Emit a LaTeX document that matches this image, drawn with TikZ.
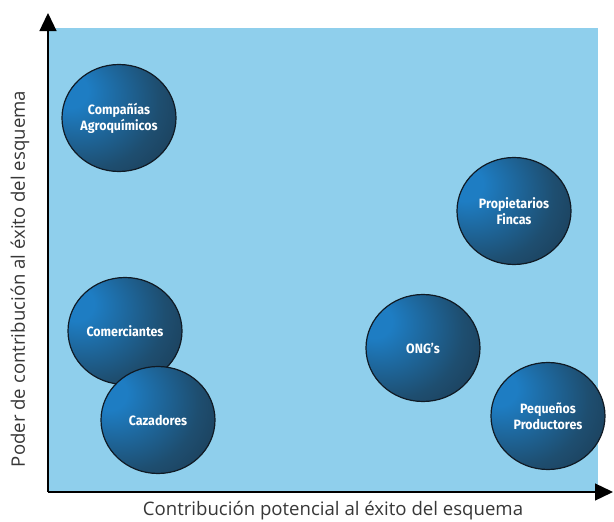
\documentclass[tikz,border=0pt]{standalone}
\usepackage{fontspec}
\setmainfont{Open Sans}
\newfontfamily\lblfont[FakeStretch=0.92]{Fira Sans}
\usetikzlibrary{arrows.meta,shapes.geometric}
\definecolor{bgblue}{RGB}{143,207,236}
\definecolor{ballhi}{RGB}{30,125,195}
\definecolor{ballmid}{RGB}{30,78,112}
\definecolor{balldk}{RGB}{26,42,58}
\definecolor{ballline}{RGB}{16,26,36}
\definecolor{axisgray}{RGB}{55,55,55}
\pgfdeclareradialshading{bubble}{\pgfpoint{-24bp}{14bp}}{color(0bp)=(ballhi); color(8bp)=(ballhi); color(32bp)=(ballmid); color(58bp)=(balldk); color(80bp)=(balldk)}
\tikzset{
  bubblenode/.style={ellipse, draw=ballline, line width=1.2pt, shading=bubble,
    minimum width=114, minimum height=107, inner sep=0pt, align=center,
    text=white, font=\lblfont\bfseries\fontsize{13.5}{16}\selectfont},
  axisline/.style={line width=1.3pt, black, -{Triangle[width=17pt,length=18pt]}},
  axislabel/.style={text=axisgray, font=\fontsize{18.6}{22}\selectfont, inner sep=0pt}
}
\begin{document}
\begin{tikzpicture}[x=1pt,y=-1pt]
\useasboundingbox (0,0) rectangle (614,522);
\fill[bgblue] (48,28) rectangle (598,492);
\coordinate (o) at (48,492);
\coordinate (ytip) at (48,13);
\coordinate (xtip) at (613,492);
\node[bubblenode] (comp) at (119,118) {Compañías\\Agroquímicos};
\node[bubblenode] (prop) at (514,211) {Propietarios\\Fincas};
\node[bubblenode] (come) at (125,331) {Comerciantes};
\node[bubblenode] (caza) at (158,420) {Cazadores};
\node[bubblenode] (ong) at (423,348) {ONG’s};
\node[bubblenode] (pequ) at (548,416) {Pequeños\\Productores};
\draw[axisline] (o) -- (ytip);
\draw[axisline] (o) -- (xtip);
\node[axislabel] (xl) at (333,511) {Contribución potencial al éxito del esquema};
\node[axislabel, rotate=90] (yl) at (20,279) {Poder de contribución al éxito del esquema};
\end{tikzpicture}
\end{document}
